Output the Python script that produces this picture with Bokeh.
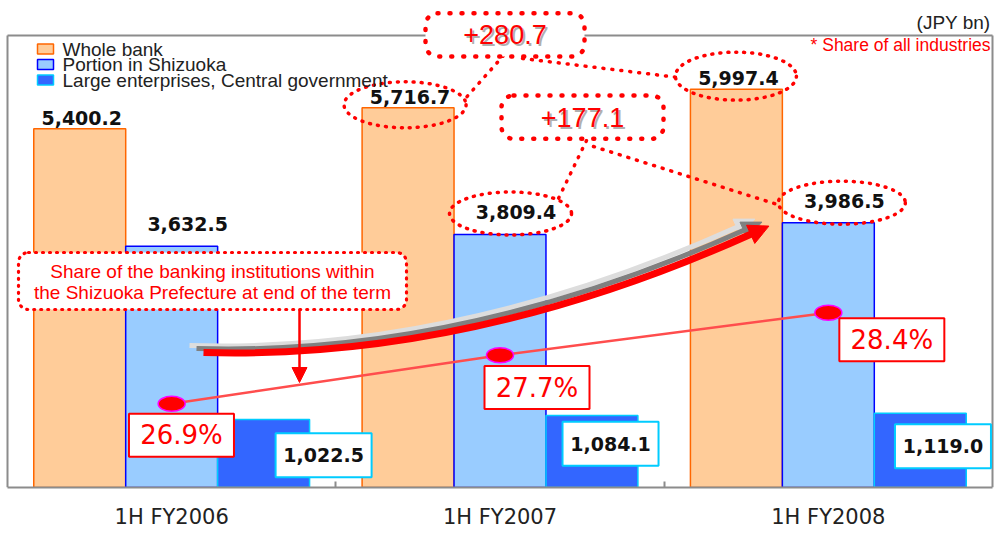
from bokeh.plotting import figure
from bokeh.models import Range1d, FixedTicker, BoxAnnotation, Label, Arrow, NormalHead
from bokeh.core.properties import value
from bokeh.embed import file_html
from bokeh.resources import INLINE
import math

# ---------------- data ----------------
categories = ["1H FY2006", "1H FY2007", "1H FY2008"]
series_names = ["Whole bank", "Portion in Shizuoka", "Large enterprises, Central government"]
whole_bank = [5400.2, 5716.7, 5997.4]
shizuoka = [3632.5, 3809.4, 3986.5]
large_ent = [1022.5, 1084.1, 1119.0]
share_pct = [26.9, 27.7, 28.4]
increase_labels = ["+280.7", "+177.1"]
unit_label = "(JPY bn)"
note_label = "* Share of all industries"
callout_lines = ["Share of the banking institutions within",
                 "the Shizuoka Prefecture at end of the term"]

# ---------------- layout ----------------
W, H = 996, 533
FL, FR, FT, FB = 7, 992, 35, 487          # visible chart box (pixels)
VAL_AT_FT = 6805.0                        # value at the top border line
P_MIN = 25.52
XS = (FR - FL) / 3.0
SY = (FB - FT) / VAL_AT_FT
SP = 60.67                                # px per percentage point

def X(px):
    return (px - FL) / XS

def Y(py):
    return (FB - py) / SY

SANS = "Liberation Sans"
ORANGE_F, ORANGE_L = "#FFCC99", "#FF6600"
LBLUE_F, LBLUE_L = "#99CCFF", "#0000FF"
BLUE_F, BLUE_L = "#3366FF", "#00CCFF"
RED = "#FF0000"
GRAY = "#8c8c8c"

centers = [i + 0.5 for i in range(len(categories))]
BW = 0.28
x_orange = [c - BW for c in centers]
x_lblue = list(centers)
x_blue = [c + BW for c in centers]

p = figure(width=W, height=H,
           x_range=Range1d(-FL / XS, 3 + (W - FR) / XS),
           y_range=Range1d(0, FB / SY),
           output_backend="svg", toolbar_location=None, y_axis_location=None,
           min_border_left=0, min_border_right=0, min_border_top=0,
           min_border_bottom=H - FB)
p.extra_y_ranges = {"pct": Range1d(P_MIN, P_MIN + FB / SP)}
p.xgrid.visible = False
p.ygrid.visible = False
p.background_fill_color = "white"
p.border_fill_color = "white"
p.outline_line_color = None

ax = p.xaxis[0]
ax.ticker = FixedTicker(ticks=centers, minor_ticks=[1, 2])
ax.bounds = (0, 3)
ax.major_label_overrides = {c: lab for c, lab in zip(centers, categories)}
ax.major_tick_in = 0
ax.major_tick_out = 0
ax.minor_tick_in = 6
ax.minor_tick_out = 0
ax.minor_tick_line_color = GRAY
ax.minor_tick_line_width = 2
ax.axis_line_color = GRAY
ax.axis_line_width = 2
ax.major_label_text_font = "DejaVu Sans"
ax.major_label_text_font_size = "21px"
ax.major_label_text_color = "#222222"
ax.major_label_standoff = 17

# chart box border (left, top, right)
ytop = Y(FT)
p.segment(x0=[0, 0, 3], y0=[0, ytop, 0], x1=[0, 3, 3], y1=[ytop, ytop, ytop],
          line_color=GRAY, line_width=2)

# ---------------- bars ----------------
p.vbar(x=x_orange, top=whole_bank, width=BW, fill_color=ORANGE_F, line_color=ORANGE_L, line_width=1.5)
p.vbar(x=x_lblue, top=shizuoka, width=BW, fill_color=LBLUE_F, line_color=LBLUE_L, line_width=1.5)
p.vbar(x=x_blue, top=large_ent, width=BW, fill_color=BLUE_F, line_color=BLUE_L, line_width=1.5)

fmt = lambda v: f"{v:,.1f}"
p.text(x=x_orange, y=whole_bank, text=[fmt(v) for v in whole_bank], x_offset=2, y_offset=-11,
       text_align="center", text_baseline="middle", text_font=value("DejaVu Sans"),
       text_font_style="bold", text_font_size="19px", text_color="#111111")
p.text(x=x_lblue, y=shizuoka, text=[fmt(v) for v in shizuoka], x_offset=16, y_offset=-22,
       text_align="center", text_baseline="middle", text_font=value("DejaVu Sans"),
       text_font_style="bold", text_font_size="19px", text_color="#111111")

# boxed labels for large enterprises
blue_box_off = [(60, 35.6), (18.6, 28.3), (22.7, 33)]
bx = [x + o[0] / XS for x, o in zip(x_blue, blue_box_off)]
by = [v - o[1] / SY for v, o in zip(large_ent, blue_box_off)]
p.rect(x=bx, y=by, width=96, height=44, width_units="screen", height_units="screen",
       fill_color="white", line_color=BLUE_L, line_width=2)
p.text(x=bx, y=by, text=[fmt(v) for v in large_ent], text_align="center", text_baseline="middle",
       text_font=value("DejaVu Sans"), text_font_style="bold", text_font_size="19px",
       text_color="#111111")

# ---------------- dotted ellipses & connectors ----------------
ell_specs = [  # (bar x, bar top, dx, dy, w, h)
    (x_orange[1], whole_bank[1], -3, -3, 122, 46),
    (x_lblue[1], shizuoka[1], 10.5, -21, 122, 43),
    (x_orange[2], whole_bank[2], -0.5, -13, 121, 48),
    (x_lblue[2], shizuoka[2], 13.5, -20, 127, 43),
]
p.ellipse(x=[s[0] + s[2] / XS for s in ell_specs], y=[s[1] - s[3] / SY for s in ell_specs],
          width=[s[4] for s in ell_specs], height=[s[5] for s in ell_specs],
          width_units="screen", height_units="screen", fill_alpha=0,
          line_color=RED, line_width=3.5, line_dash="1 7", line_cap="round")

conn_px = [((503, 55), (464, 99)), ((522, 58), (678, 77)),
           ((586, 140), (557, 200)), ((593, 146), (780, 205))]
p.segment(x0=[X(a[0]) for a, b in conn_px], y0=[Y(a[1]) for a, b in conn_px],
          x1=[X(b[0]) for a, b in conn_px], y1=[Y(b[1]) for a, b in conn_px],
          line_color=RED, line_width=3.5, line_dash="1 8", line_cap="round")

# ---------------- curved growth arrow ----------------
def curve(shift, color, lw, head):
    sx, sy = shift
    P0 = (203 + sx, 352 + sy)
    C = (470 + sx, 360 + sy)
    P2 = (752 + sx, 233 + sy)
    p.quadratic(x0=[X(P0[0])], y0=[Y(P0[1])], x1=[X(P2[0])], y1=[Y(P2[1])],
                cx=[X(C[0])], cy=[Y(C[1])], line_color=color, line_width=lw)
    tx, ty = P2[0] - C[0], P2[1] - C[1]
    n = math.hypot(tx, ty)
    ux, uy = tx / n, ty / n
    px_, py_ = -uy, ux
    tip = (P2[0] + 18 * ux, P2[1] + 18 * uy)
    b1 = (P2[0] + head * px_ - 2 * ux, P2[1] + head * py_ - 2 * uy)
    b2 = (P2[0] - head * px_ - 2 * ux, P2[1] - head * py_ - 2 * uy)
    p.patch(x=[X(tip[0]), X(b1[0]), X(b2[0])], y=[Y(tip[1]), Y(b1[1]), Y(b2[1])],
            fill_color=color, line_color=color, line_width=1)

curve((-14, -7), "#dddddd", 5, 9)
curve((-7, -4), "#808080", 5, 9)
curve((0, 0), RED, 7, 10)

# ---------------- share line ----------------
p.line(x=centers, y=share_pct, y_range_name="pct", line_color="#FF4D4D", line_width=2.5)
p.ellipse(x=centers, y=share_pct, width=27, height=15, width_units="screen", height_units="screen",
          y_range_name="pct", fill_color=RED, line_color="#FF00FF", line_width=1.5)
pct_off = [(9.8, 31.5), (37, 32.3), (63.5, 27)]
pbx = [c + o[0] / XS for c, o in zip(centers, pct_off)]
pby = [v - o[1] / SP for v, o in zip(share_pct, pct_off)]
p.rect(x=pbx, y=pby, width=105, height=43, width_units="screen", height_units="screen",
       y_range_name="pct", fill_color="white", line_color=RED, line_width=2)
p.text(x=pbx, y=pby, text=[f"{v}%" for v in share_pct], y_range_name="pct",
       text_align="center", text_baseline="middle", text_font=value("DejaVu Sans"),
       text_font_size="26px", text_color=RED)

# ---------------- callout box ----------------
p.add_layout(BoxAnnotation(left=X(18), right=X(406), top=Y(252), bottom=Y(309),
                           fill_color="white", fill_alpha=1, line_color=RED, line_alpha=1,
                           line_width=3.2, line_dash="1 6", line_cap="round", border_radius=10))
for line_txt, py in zip(callout_lines, [271, 292]):
    p.add_layout(Label(x=X(212), y=Y(py), text=line_txt, text_align="center",
                       text_baseline="middle", text_font=SANS, text_font_size="19px",
                       text_color=RED))
p.add_layout(Arrow(x_start=X(299), y_start=Y(309), x_end=X(299), y_end=Y(382),
                   line_color=RED, line_width=2.5,
                   end=NormalHead(size=15, fill_color=RED, line_color=RED)))

# ---------------- increase callouts ----------------
for txt, (l, r, t, b) in zip(increase_labels, [(425, 584, 12.7, 56), (501, 663, 95, 138.3)]):
    p.add_layout(BoxAnnotation(left=X(l), right=X(r), top=Y(t), bottom=Y(b),
                               fill_color="white", fill_alpha=1, line_color=RED, line_alpha=1,
                               line_width=4.5, line_dash="1 11", line_cap="round",
                               border_radius=12))
    cx, cy = (l + r) / 2, (t + b) / 2
    p.add_layout(Label(x=X(cx), y=Y(cy), x_offset=2, y_offset=-2, text=txt, text_align="center",
                       text_baseline="middle", text_font=SANS, text_font_size="27px",
                       text_color="#b0b0b0"))
    p.add_layout(Label(x=X(cx), y=Y(cy), text=txt, text_align="center",
                       text_baseline="middle", text_font=SANS, text_font_size="27px",
                       text_color=RED))

# ---------------- legend ----------------
leg_y = [48.5, 64, 79.5]
p.rect(x=[X(45)] * 3, y=[Y(v) for v in leg_y], width=16, height=10, width_units="screen",
       height_units="screen", fill_color=[ORANGE_F, LBLUE_F, BLUE_F],
       line_color=[ORANGE_L, LBLUE_L, BLUE_L], line_width=1.5)
p.text(x=[X(62)] * 3, y=[Y(v) for v in leg_y], text=series_names, text_align="left",
       text_baseline="middle", text_font=value(SANS), text_font_size="19px",
       text_color="#222222")

# ---------------- unit / note ----------------
p.add_layout(Label(x=X(990), y=Y(22), text=unit_label, text_align="right", text_baseline="middle",
                   text_font=SANS, text_font_size="19px", text_color="#222222"))
p.add_layout(Label(x=X(990), y=Y(44.5), text=note_label, text_align="right", text_baseline="middle",
                   text_font=SANS, text_font_size="17.5px", text_color=RED))

open("out.html", "w").write(file_html(p, INLINE))
